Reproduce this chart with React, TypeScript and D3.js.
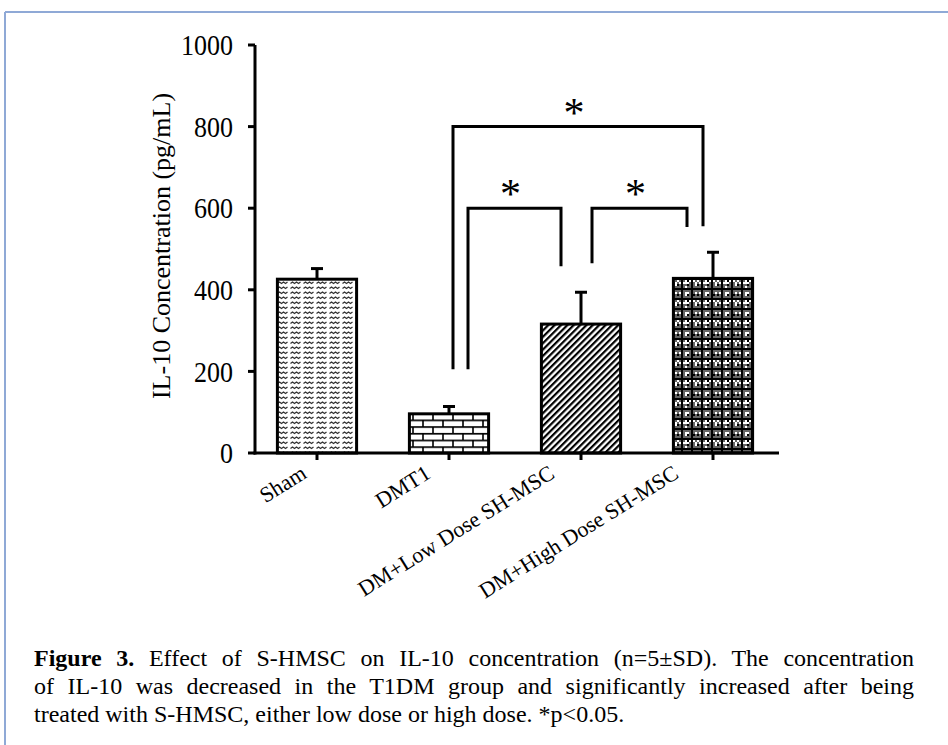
import React, { useEffect, useRef, useState } from "react";
import * as d3 from "d3";

const categories = ["Sham", "DMT1", "DM+Low Dose SH-MSC", "DM+High Dose SH-MSC"];
const means = [426, 96, 316, 428];
const errors = [26, 18, 78, 64];
const yTicks = [0, 200, 400, 600, 800, 1000];
const patternIds = ["pSham", "pBrick", "pHatch", "pCheck"];

// significance brackets
const bracketFrom = [1, 1, 2];
const bracketTo = [3, 2, 3];
const bracketLevel = [800, 600, 600];
const bracketLeftEnd = [205, 205, 465];
const bracketRightEnd = [556, 458, 554];

const captionBold = "Figure 3.";
const captionLines = [
  "Effect of S-HMSC on IL-10 concentration (n=5±SD). The concentration",
  "of IL-10 was decreased in the T1DM group and significantly increased after being",
  "treated with S-HMSC, either low dose or high dose. *p<0.05.",
];

const W = 948;
const H = 745;
const FONT = "'Liberation Serif', 'Times New Roman', serif";
const CAP_X = 34;
const CAP_W = 880;

export default function App() {
  const y = d3.scaleLinear().domain([0, 1000]).range([453, 45]);
  const x = d3
    .scaleBand<string>()
    .domain(categories)
    .range([251, 779])
    .paddingInner(0.4)
    .paddingOuter(0.2);
  const bw = x.bandwidth();
  const cx = (i: number) => (x(categories[i]) as number) + bw / 2;

  const leftOff = [4, 19, 11];
  const rightOff = [-10, -20, -26];

  const l1 = useRef<SVGTextElement>(null);
  const l2 = useRef<SVGTextElement>(null);
  const [ws, setWs] = useState<[number, number]>([0, 0]);
  useEffect(() => {
    const calc = (el: SVGTextElement | null, spaces: number) => {
      if (!el) return 0;
      const len = el.getComputedTextLength();
      return Math.max(0, (CAP_W - len) / spaces);
    };
    const s1 = (captionBold + " " + captionLines[0]).split(" ").length - 1;
    const s2 = captionLines[1].split(" ").length - 1;
    setWs([calc(l1.current, s1), calc(l2.current, s2)]);
  }, []);

  return (
    <svg
      width={W}
      height={H}
      style={{ position: "absolute", left: 0, top: 0, background: "#fff" }}
      fontFamily={FONT}
    >
      <defs>
        <pattern id="pSham" width={13} height={5} patternUnits="userSpaceOnUse" x={277} y={0}>
          <rect width={13} height={5} fill="#fff" />
          <path d="M0.5,3.5 L2.5,2 L4.5,3.5 L6.5,2 L8.5,3.5 L10.5,2" stroke="#333" strokeWidth={1.3} fill="none" />
        </pattern>
        <pattern id="pBrick" width={20} height={13.4} patternUnits="userSpaceOnUse" x={408} y={453}>
          <rect width={20} height={13.4} fill="#fff" />
          <path d="M0,0.8 H20 M0,7.5 H20 M5,0.8 V7.5 M15,7.5 V13.4" stroke="#000" strokeWidth={1.6} fill="none" />
        </pattern>
        <pattern id="pHatch" width={4.5} height={4.5} patternUnits="userSpaceOnUse" patternTransform="rotate(45)">
          <rect width={4.5} height={4.5} fill="#fff" />
          <rect x={0} y={0} width={2.2} height={4.5} fill="#000" />
        </pattern>
        <pattern id="pCheck" width={20} height={20} patternUnits="userSpaceOnUse" x={673} y={0}>
          <rect width={20} height={20} fill="#666" />
          <path d="M0,0h2v2h-2z M4,0h2v2h-2z M8,0h2v2h-2z M12,0h2v2h-2z M16,0h2v2h-2z M2,2h2v2h-2z M6,2h2v2h-2z M10,2h2v2h-2z M14,2h2v2h-2z M18,2h2v2h-2z" fill="#fff" />
          <path d="M0,8h20v2h-20z M0,18h20v2h-20z M8,0h2v20h-2z M18,0h2v20h-2z" fill="#000" />
          <path d="M2,12h2v2h-2z M6,12h2v2h-2z M12,2h2v2h-2z M12,6h2v2h-2z M2,4h4v2h-4z M12,12h4v4h-4z" fill="#fff" />
          <path d="M4,14h2v2h-2z M14,4h2v2h-2z M0,14h2v2h-2z M14,0h2v2h-2z M14,14h2v2h-2z M4,4h2v2h-2z" fill="#000" />
        </pattern>
      </defs>

      {/* frame */}
      <line x1={5} y1={12} x2={W} y2={12} stroke="#8fa9d6" strokeWidth={2} />
      <line x1={5} y1={12} x2={5} y2={H} stroke="#8fa9d6" strokeWidth={2} />

      {/* bars */}
      {categories.map((c, i) => (
        <rect
          key={c}
          x={x(c)}
          y={y(means[i])}
          width={bw}
          height={y(0) - y(means[i])}
          fill={`url(#${patternIds[i]})`}
          stroke="#000"
          strokeWidth={3}
        />
      ))}

      {/* error bars */}
      {categories.map((c, i) => (
        <g key={"e" + c} stroke="#000" strokeWidth={3}>
          <line x1={cx(i)} x2={cx(i)} y1={y(means[i])} y2={y(means[i] + errors[i])} />
          <line x1={cx(i) - 6} x2={cx(i) + 6} y1={y(means[i] + errors[i])} y2={y(means[i] + errors[i])} />
        </g>
      ))}

      {/* axes */}
      <line x1={255} x2={255} y1={y(1000)} y2={y(0) + 1.5} stroke="#000" strokeWidth={3} />
      <line x1={253.5} x2={779} y1={y(0)} y2={y(0)} stroke="#000" strokeWidth={3} />
      {yTicks.map((t) => (
        <g key={t}>
          <line x1={248} x2={255} y1={y(t)} y2={y(t)} stroke="#000" strokeWidth={3} />
          <text
            transform={`translate(233,${y(t)}) scale(1,1.12)`}
            dy="0.35em"
            textAnchor="end"
            fontSize={26}
            fill="#000"
          >
            {t}
          </text>
        </g>
      ))}
      {categories.map((c, i) => (
        <line key={"t" + c} x1={cx(i)} x2={cx(i)} y1={y(0)} y2={y(0) + 7} stroke="#000" strokeWidth={3} />
      ))}
      {categories.map((c, i) => (
        <text
          key={"l" + c}
          transform={`translate(${cx(i) - 9 - i * 8},${477}) rotate(-32)`}
          textAnchor="end"
          fontSize={22}
          fill="#000"
        >
          {c}
        </text>
      ))}

      {/* y title */}
      <text
        transform={`translate(170,${246}) rotate(-90)`}
        textAnchor="middle"
        fontSize={26}
        fill="#000"
      >
        IL-10 Concentration (pg/mL)
      </text>

      {/* significance brackets */}
      {bracketFrom.map((f, k) => {
        const x1 = cx(f) + leftOff[k];
        const x2 = cx(bracketTo[k]) + rightOff[k];
        const yl = y(bracketLevel[k]);
        return (
          <g key={"b" + k}>
            <path
              d={`M${x1},${y(bracketLeftEnd[k])} V${yl} H${x2} V${y(bracketRightEnd[k])}`}
              fill="none"
              stroke="#000"
              strokeWidth={3}
            />
            <text x={(x1 + x2) / 2 - 4} y={yl} textAnchor="middle" fontSize={42} fill="#000">
              *
            </text>
          </g>
        );
      })}

      {/* caption */}
      <text ref={l1} x={CAP_X} y={666} fontSize={24} fill="#000" wordSpacing={ws[0]}>
        <tspan fontWeight="bold">{captionBold}</tspan> {captionLines[0]}
      </text>
      <text ref={l2} x={CAP_X} y={694} fontSize={24} fill="#000" wordSpacing={ws[1]}>
        {captionLines[1]}
      </text>
      <text x={CAP_X} y={722} fontSize={24} fill="#000">
        {captionLines[2]}
      </text>
    </svg>
  );
}
